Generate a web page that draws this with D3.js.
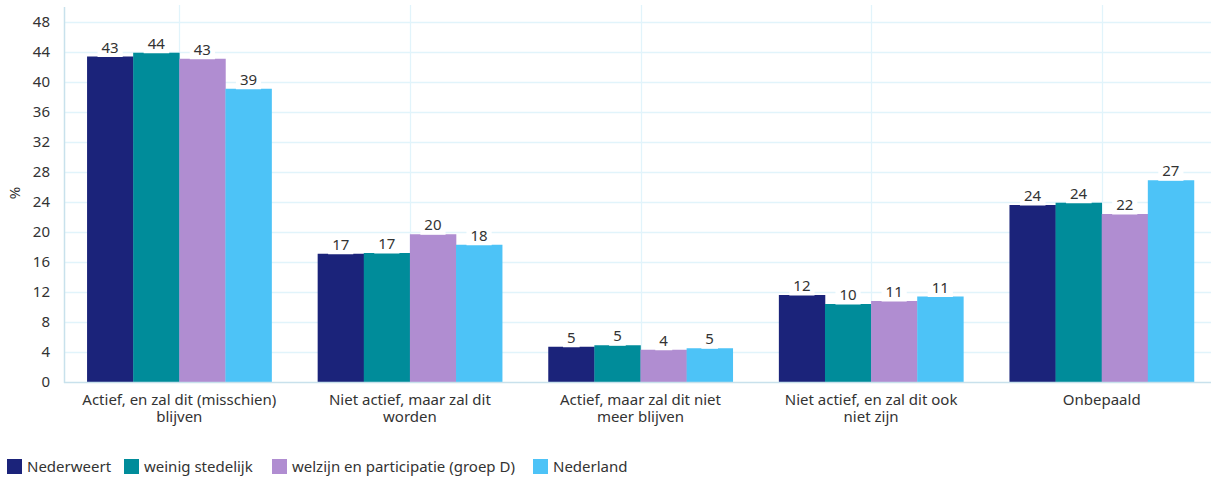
<!DOCTYPE html>
<html>
<head>
<meta charset="utf-8">
<script src="https://cdn.jsdelivr.net/npm/d3@7"></script>
<style>
  html, body { margin: 0; padding: 0; background: #fff; }
  svg { display: block; font-family: "Noto Sans", "Open Sans", sans-serif; }
</style>
</head>
<body>
<svg id="chart" width="1211" height="477"></svg>
<script>
const categories = [
  ["Actief, en zal dit (misschien)", "blijven"],
  ["Niet actief, maar zal dit", "worden"],
  ["Actief, maar zal dit niet", "meer blijven"],
  ["Niet actief, en zal dit ook", "niet zijn"],
  ["Onbepaald"]
];
const seriesNames = ["Nederweert", "weinig stedelijk", "welzijn en participatie (groep D)", "Nederland"];
const nederweert = [43.4, 17.1, 4.7, 11.6, 23.6];
const weinigStedelijk = [43.9, 17.2, 4.9, 10.4, 23.9];
const welzijn = [43.1, 19.7, 4.3, 10.8, 22.4];
const nederland = [39.1, 18.3, 4.5, 11.4, 26.9];
const yTicks = [0, 4, 8, 12, 16, 20, 24, 28, 32, 36, 40, 44, 48];
const colors = ["#1b237a", "#008c9a", "#b08dd1", "#4dc3f7"];

const seriesValues = [nederweert, weinigStedelijk, welzijn, nederland];

const svg = d3.select("#chart");
const mLeft = 64, mRight = 1217, mTop = 7, mBottom = 382;
const FS = 15;

const x0 = d3.scaleBand().domain(d3.range(categories.length)).range([mLeft, mRight]).paddingInner(0).paddingOuter(0);
const x1 = d3.scaleBand().domain(d3.range(seriesNames.length)).range([0, x0.bandwidth()]).paddingOuter(0.5).paddingInner(0);
const y = d3.scaleLinear().domain([0, 50]).range([mBottom, mTop]);

// horizontal gridlines
svg.append("g").selectAll("line").data(yTicks.filter(d => d > 0)).join("line")
  .attr("x1", mLeft).attr("x2", mRight)
  .attr("y1", d => Math.round(y(d)) + 0.5).attr("y2", d => Math.round(y(d)) + 0.5)
  .attr("stroke", "#e1f4fb").attr("stroke-width", 1.3);

// vertical gridlines at category centers
svg.append("g").selectAll("line").data(d3.range(categories.length)).join("line")
  .attr("x1", d => Math.round(x0(d) + x0.bandwidth() / 2) + 0.5)
  .attr("x2", d => Math.round(x0(d) + x0.bandwidth() / 2) + 0.5)
  .attr("y1", mTop - 2).attr("y2", mBottom)
  .attr("stroke", "#e1f4fb").attr("stroke-width", 1.3);

// bars
const groups = svg.append("g").selectAll("g").data(d3.range(categories.length)).join("g")
  .attr("transform", c => `translate(${x0(c)},0)`);
groups.selectAll("rect").data(c => seriesValues.map((s, i) => ({ i, v: s[c] }))).join("rect")
  .attr("x", d => x1(d.i))
  .attr("width", x1.bandwidth() + 0.3)
  .attr("y", d => y(d.v))
  .attr("height", d => y(0) - y(d.v))
  .attr("fill", d => colors[d.i]);

// value labels
groups.each(function (c) {
  const g = d3.select(this);
  seriesValues.forEach((s, i) => {
    const v = s[c];
    const cx = x1(i) + x1.bandwidth() / 2;
    const lg = g.append("g");
    const t = lg.append("text")
      .attr("x", cx).attr("y", y(v) - 4)
      .attr("text-anchor", "middle")
      .attr("font-size", FS).attr("fill", "#333")
      .text(Math.round(v));
    const bb = t.node().getBBox();
    lg.insert("rect", "text")
      .attr("x", bb.x - 4).attr("y", bb.y + 1)
      .attr("width", bb.width + 8).attr("height", y(v) - bb.y - 0.5)
      .attr("fill", "#fff");
  });
});

// axes lines
svg.append("line").attr("x1", mLeft + 0.5).attr("x2", mLeft + 0.5).attr("y1", mTop).attr("y2", mBottom + 1)
  .attr("stroke", "#c8e1ec").attr("stroke-width", 1.5);
svg.append("line").attr("x1", mLeft).attr("x2", mRight).attr("y1", mBottom + 0.5).attr("y2", mBottom + 0.5)
  .attr("stroke", "#c8e1ec").attr("stroke-width", 1.5);

// y tick labels
svg.append("g").selectAll("text").data(yTicks).join("text")
  .attr("x", 50).attr("y", d => y(d) + 5)
  .attr("text-anchor", "end").attr("font-size", FS).attr("fill", "#333")
  .text(d => d);

// y title
svg.append("text").attr("transform", "translate(20,193) rotate(-90)")
  .attr("text-anchor", "middle").attr("font-size", FS).attr("fill", "#333").text("%");

// x labels
svg.append("g").selectAll("text").data(d3.range(categories.length)).join("text")
  .attr("text-anchor", "middle").attr("font-size", FS).attr("fill", "#333")
  .each(function (c) {
    const t = d3.select(this);
    categories[c].forEach((line, k) => {
      t.append("tspan").attr("x", x0(c) + x0.bandwidth() / 2).attr("y", 405 + k * 17).text(line);
    });
  });

// legend
const legendX = [7, 124, 272, 533];
const lg = svg.append("g").selectAll("g").data(seriesNames).join("g")
  .attr("transform", (d, i) => `translate(${legendX[i]},459)`);
lg.append("rect").attr("width", 15).attr("height", 15).attr("fill", (d, i) => colors[i]);
lg.append("text").attr("x", 20).attr("y", 12.5).attr("font-size", FS).attr("fill", "#333").text(d => d);
</script>
</body>
</html>
